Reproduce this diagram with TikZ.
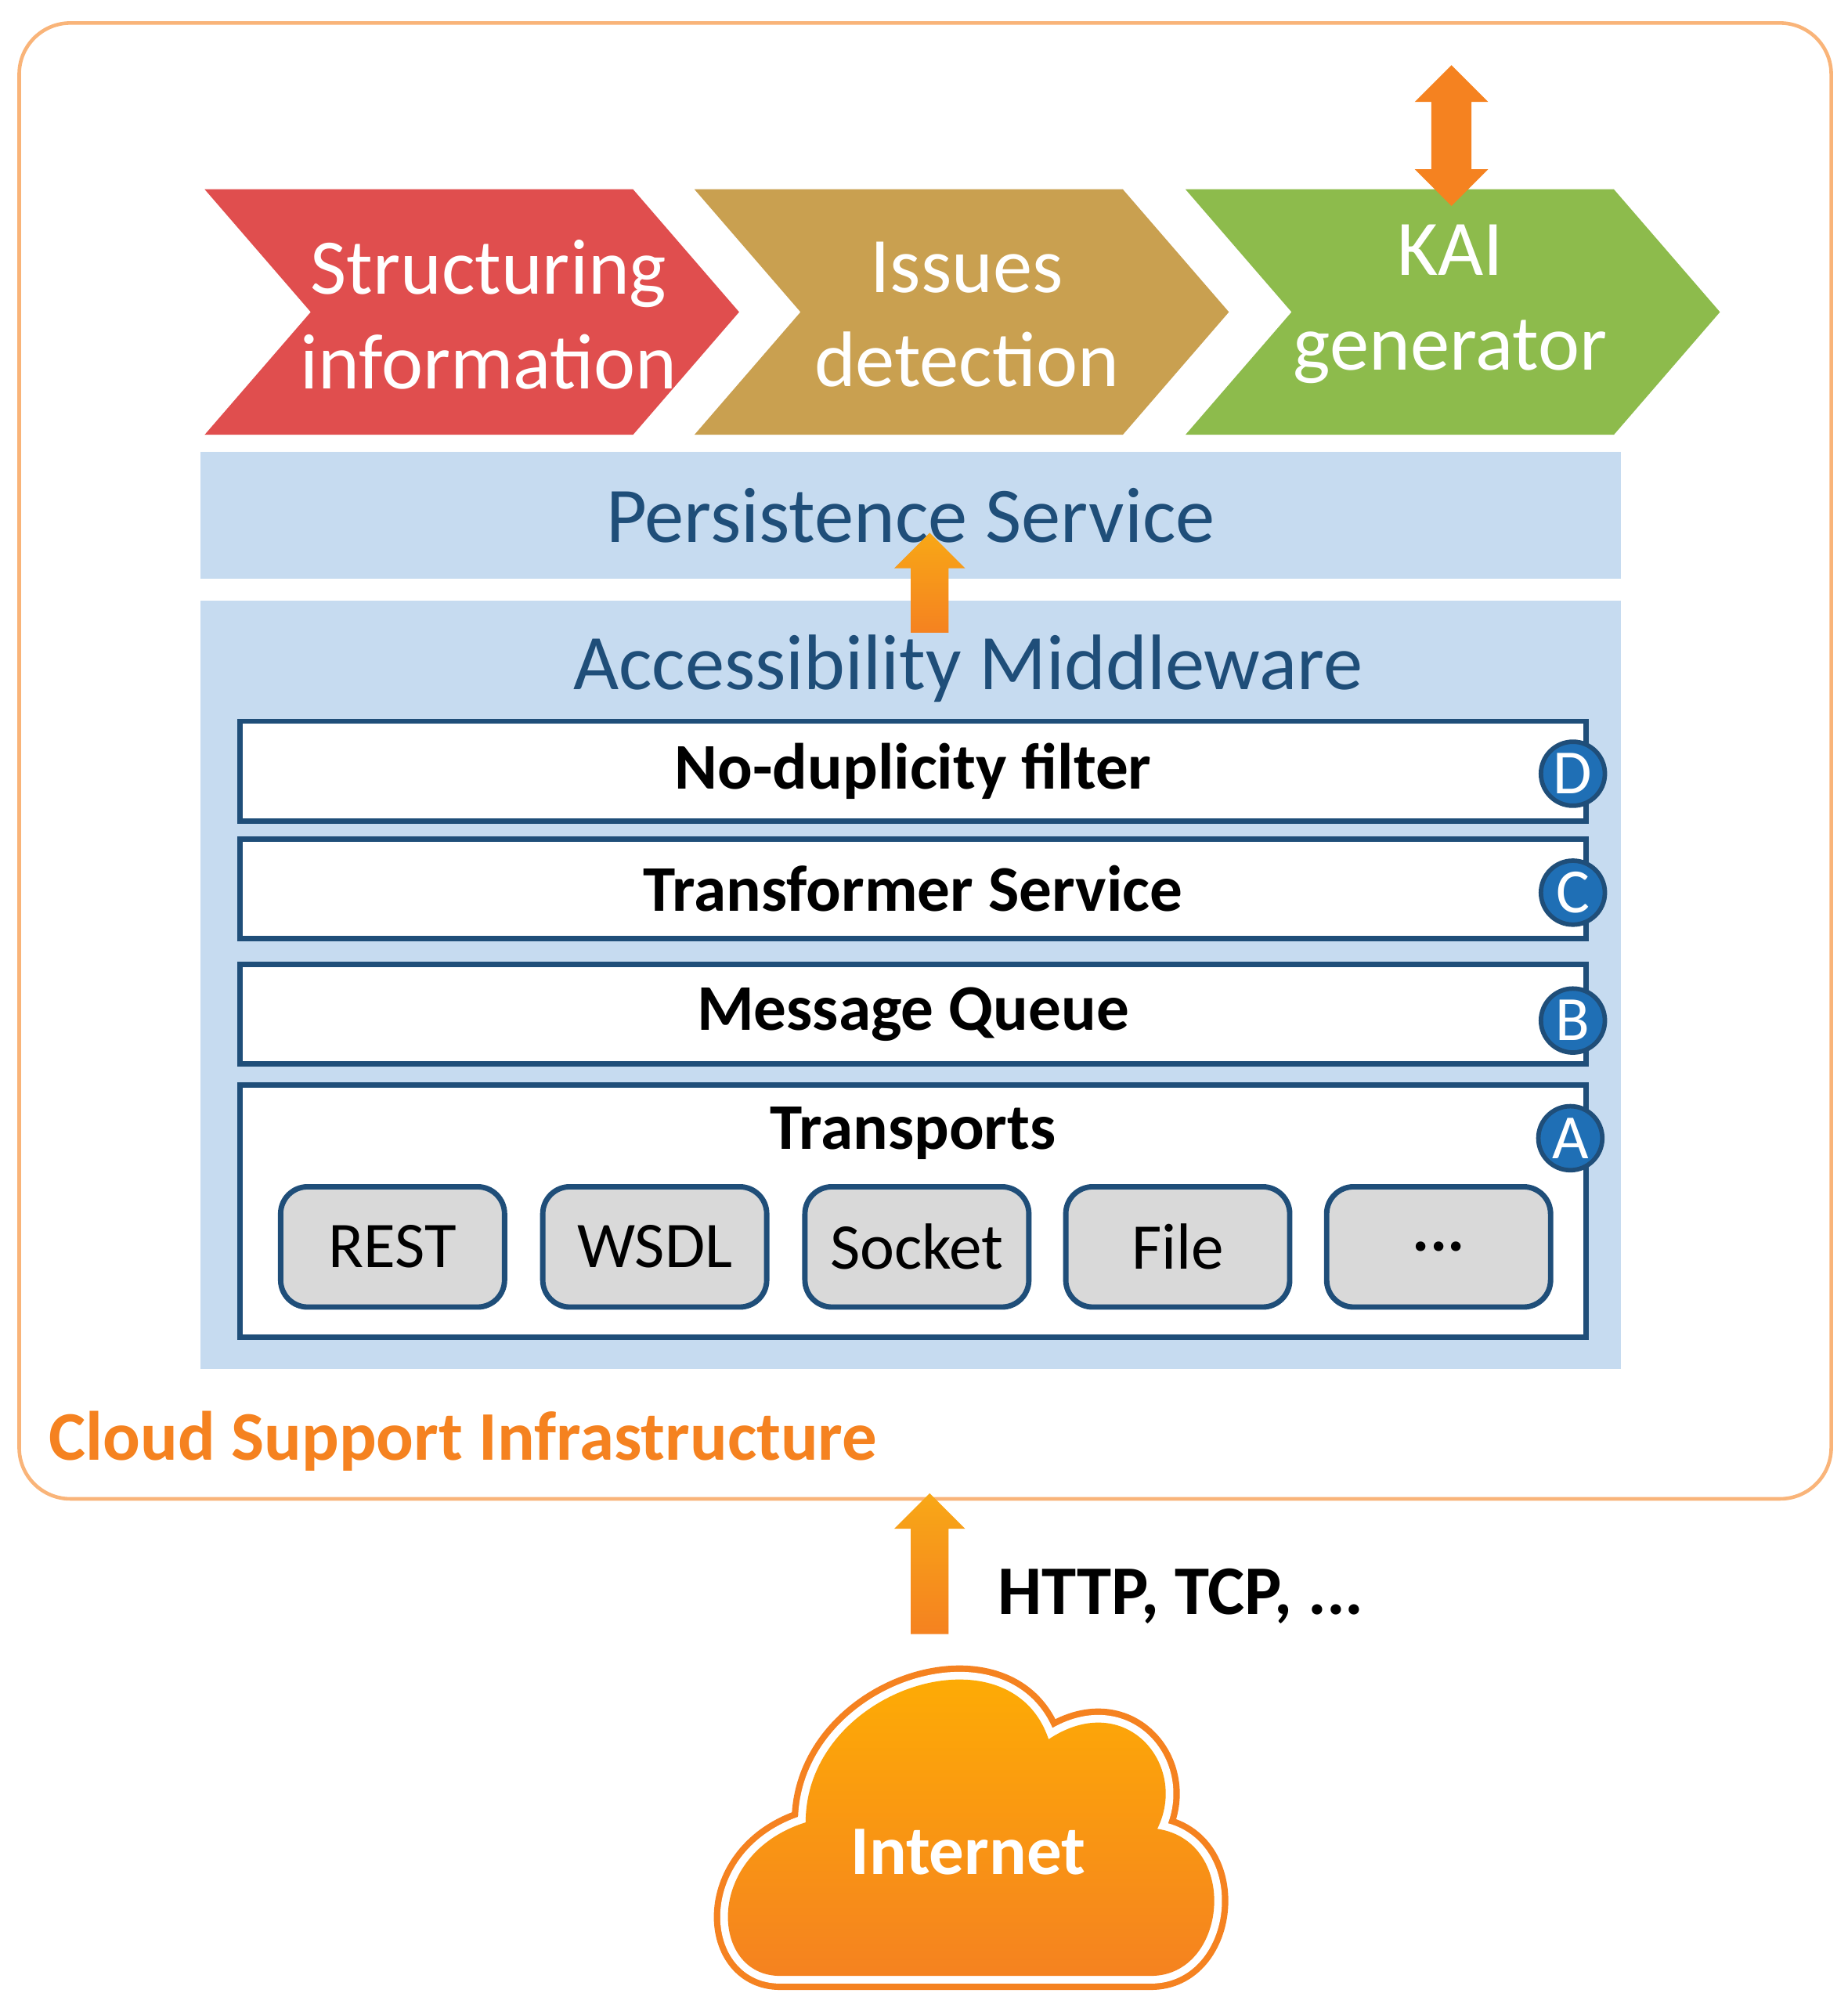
\documentclass[tikz,border=0pt]{standalone}
\usepackage{fontspec}
\setmainfont{Carlito}
\usetikzlibrary{shapes.arrows}
\definecolor{bandblue}{HTML}{C6DBF0}
\definecolor{darkblue}{HTML}{1F4E79}
\definecolor{circblue}{HTML}{1F6FB5}
\definecolor{chred}{HTML}{E04E4E}
\definecolor{chtan}{HTML}{C9A050}
\definecolor{chgreen}{HTML}{8DBB4C}
\definecolor{arrorange}{HTML}{F58220}
\tikzset{
  layer/.style={draw=darkblue, line width=1.2pt, fill=white, font=\fontsize{14.5}{17}\selectfont\bfseries},
  proto/.style={draw=darkblue, line width=1.2pt, fill=black!15, rounded corners=6pt, font=\fontsize{14.5}{17}\selectfont,
    minimum width=1.75cm, minimum height=0.94cm},
  badge/.style={circle, draw=darkblue, line width=1pt, fill=circblue, text=white, inner sep=0pt,
    minimum size=0.5cm, font=\fontsize{14}{16}\selectfont},
  blockarrow/.style={single arrow, shape border rotate=90, top color=arrorange!70!yellow, bottom color=arrorange,
    draw=none, single arrow head extend=0.13cm, inner sep=0.14cm},
  chevtext/.style={text=white, align=center, font=\fontsize{17.5}{21}\selectfont}
}
\newcommand{\chevron}[2]{%
  \fill[#2] (#1,148) -- ++(335,0) -- ++(83,96) -- ++(-83,96) -- ++(-335,0) -- ++(83,-96) -- cycle;}
\begin{document}
\begin{tikzpicture}[x=0.01cm, y=-0.01cm]
  \useasboundingbox (0,0) rectangle (1445,1567);
  % outer frame
  \draw[arrorange!60, rounded corners=0.4cm, line width=0.8pt] (15,18) rectangle (1432,1172);
  \node[anchor=west, text=arrorange, font=\fontsize{15.5}{18}\selectfont\bfseries] (csi) at (26,1127) {Cloud Support Infrastructure};

  % process chevrons
  \chevron{160}{chred}
  \chevron{543}{chtan}
  \chevron{927}{chgreen}
  \node[chevtext] (struct) at (382,246) {Structuring\\information};
  \node[chevtext] (issues) at (756,246) {Issues\\detection};
  \node[chevtext] (kai) at (1134,238) {KAI\\generator};
  \node[double arrow, shape border rotate=90, fill=arrorange, minimum height=1.1cm, inner sep=0.15cm,
    double arrow head extend=0.13cm] (kaiio) at (1135,106) {};

  % persistence
  \node[fill=bandblue, minimum width=11.1cm, minimum height=0.99cm, text=darkblue,
    font=\fontsize{17.5}{21}\selectfont] (persist) at (712,403) {Persistence Service};

  % middleware
  \node[fill=bandblue, minimum width=11.1cm, minimum height=6cm] (mw) at (712,770) {};
  \node[text=darkblue, font=\fontsize{17.5}{21}\selectfont] (mwtitle) at (757,523) {Accessibility Middleware};
  \node[blockarrow, minimum height=0.78cm] (up) at (727,463) {};

  \node[layer, minimum width=10.52cm, minimum height=0.78cm] (filter) at (714,603) {No-duplicity filter};
  \node[layer, minimum width=10.52cm, minimum height=0.78cm] (trans) at (714,695) {Transformer Service};
  \node[layer, minimum width=10.52cm, minimum height=0.78cm] (queue) at (714,793) {Message Queue};
  \node[layer, minimum width=10.52cm, minimum height=1.97cm] (transp) at (714,947) {};
  \node[font=\fontsize{14.5}{17}\selectfont\bfseries] (transptitle) at (714,886) {Transports};

  \node[badge] (bd) at (1230,605) {D};
  \node[badge] (bc) at (1230,698) {C};
  \node[badge] (bb) at (1230,798) {B};
  \node[badge] (ba) at (1228,890) {A};

  \node[proto] (rest) at (307,975) {REST};
  \node[proto] (wsdl) at (512,975) {WSDL};
  \node[proto] (sock) at (717,975) {Socket};
  \node[proto] (file) at (921,975) {File};
  \node[proto] (more) at (1125,975) {\textbf{...}};

  % internet
  \draw[arrorange, line width=0.22cm] (610,1545) .. controls (555,1545) and (550,1450) .. (630,1425)
    .. controls (630,1320) and (790,1270) .. (820,1360) .. controls (880,1320) and (930,1380) .. (905,1430)
    .. controls (970,1440) and (960,1545) .. (900,1545) -- cycle;
  \draw[white, line width=0.12cm] (610,1545) .. controls (555,1545) and (550,1450) .. (630,1425)
    .. controls (630,1320) and (790,1270) .. (820,1360) .. controls (880,1320) and (930,1380) .. (905,1430)
    .. controls (970,1440) and (960,1545) .. (900,1545) -- cycle;
  \shade[top color=orange!60!yellow, bottom color=arrorange] (610,1545) .. controls (555,1545) and (550,1450) .. (630,1425)
    .. controls (630,1320) and (790,1270) .. (820,1360) .. controls (880,1320) and (930,1380) .. (905,1430)
    .. controls (970,1440) and (960,1545) .. (900,1545) -- cycle;
  \node[text=white, font=\fontsize{15.5}{18}\selectfont\bfseries] (inet) at (757,1448) {Internet};
  \node[blockarrow, minimum height=1.1cm] (inup) at (727,1230) {};
  \node[anchor=west, font=\fontsize{15.5}{18}\selectfont\bfseries] (proto) at (768,1248) {HTTP, TCP, ...};
\end{tikzpicture}
\end{document}
